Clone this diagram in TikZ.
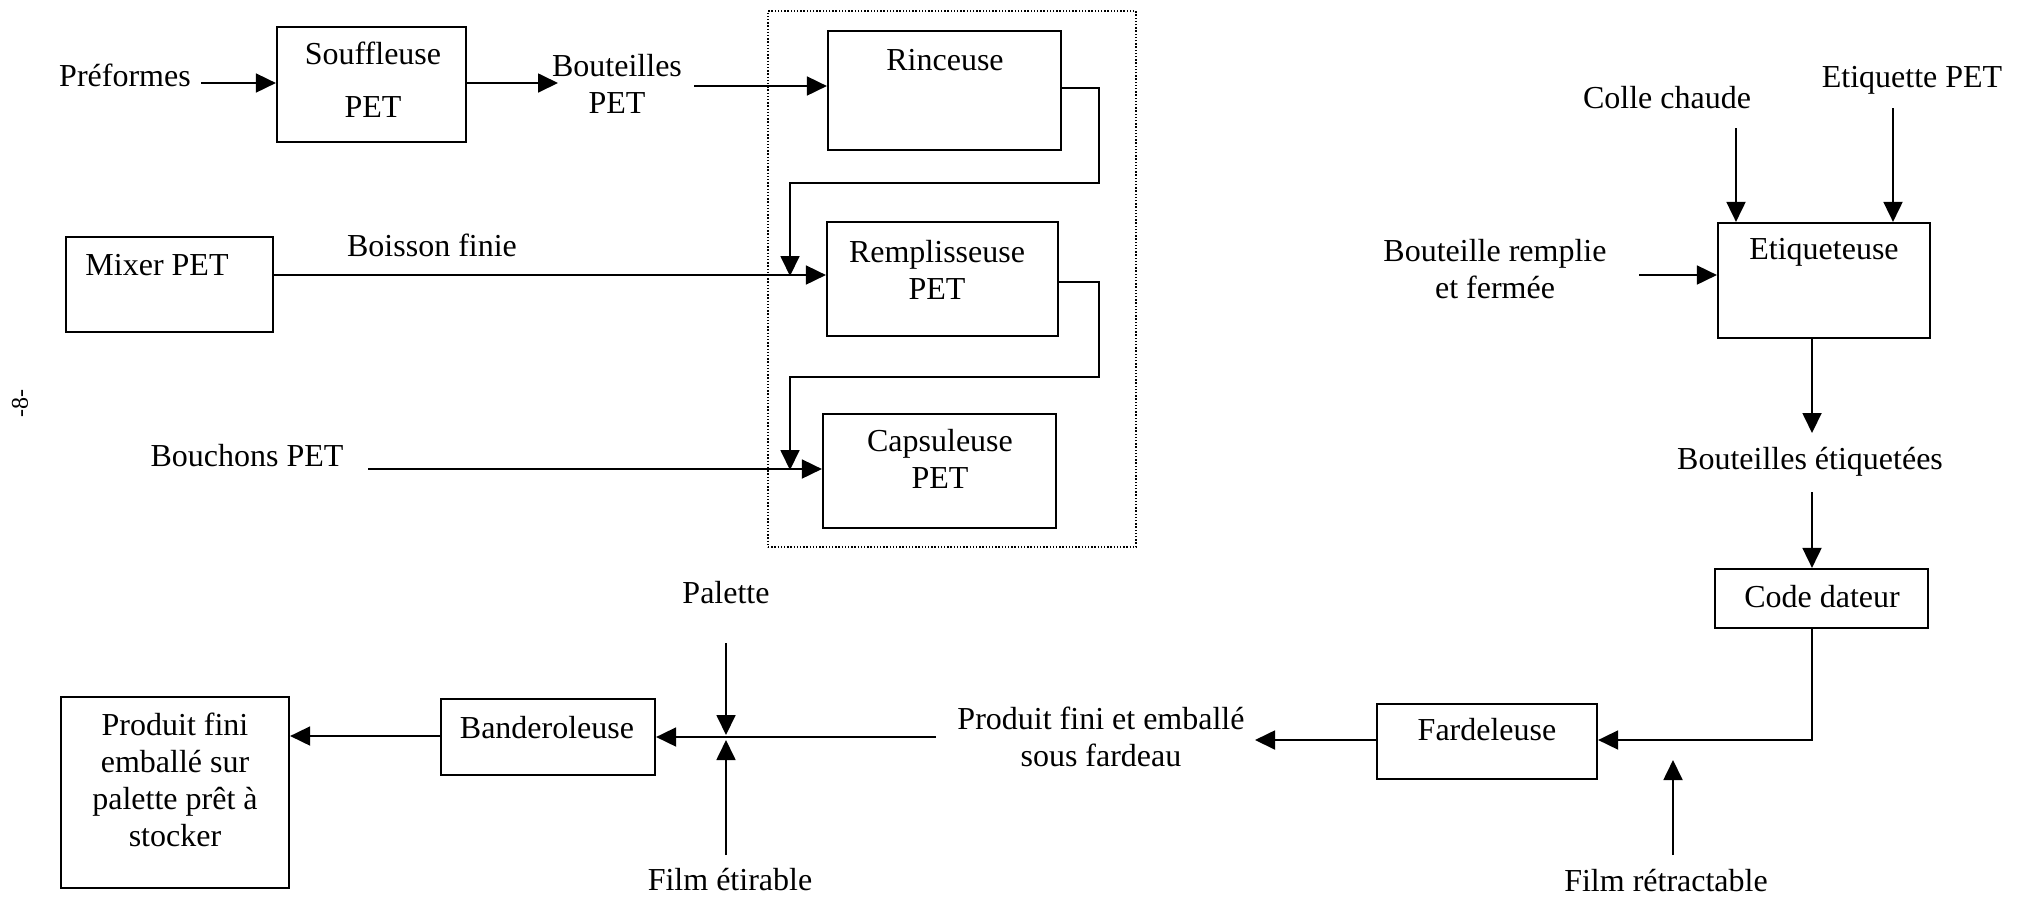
\documentclass[tikz,border=0pt]{standalone}
\usepackage{fontspec}
\setmainfont{Liberation Serif}
\usetikzlibrary{arrows.meta}
\begin{document}
\begin{tikzpicture}[x=0.5pt,y=-0.5pt,
  every node/.style={font=\fontsize{16}{18.5}\selectfont, inner sep=0pt},
  box/.style={draw, line width=1.1pt},
  lbl/.style={align=center},
  flow/.style={line width=0.9pt, -{Triangle[length=10pt,width=9.5pt]}},
  group/.style={draw, line width=0.7pt, dash pattern=on 0.7pt off 0.9pt}]
\useasboundingbox (0,0) rectangle (2024,896);

% ---------- bottling group (dotted frame) ----------
\node[group, minimum width=184pt, minimum height=268pt] (grp) at (952,279) {};

% ---------- machines ----------
\node[box, minimum width=94.5pt,  minimum height=57.5pt] (souf)  at (371.5,84.5) {};
\node[box, minimum width=103.5pt, minimum height=47.5pt] (mixer) at (169.5,284.5) {};
\node[box, minimum width=116.5pt, minimum height=59.5pt] (rince) at (944.5,90.5) {};
\node[box, minimum width=115.5pt, minimum height=57pt]   (rempl) at (942.5,279) {};
\node[box, minimum width=116.5pt, minimum height=57pt]   (caps)  at (939.5,471) {};
\node[box, minimum width=106pt,   minimum height=57.5pt] (etiq)  at (1824,280.5) {};
\node[box, minimum width=106.5pt, minimum height=29.5pt] (code)  at (1821.5,598.5) {};
\node[box, minimum width=110pt,   minimum height=37.5pt] (fard)  at (1487,741.5) {};
\node[box, minimum width=107pt,   minimum height=38pt]   (band)  at (548,737) {};
\node[box, minimum width=114pt,   minimum height=95.5pt] (prod)  at (175,792.5) {};

% ---------- texts inside the machines ----------
\node (t-souf1) at (373,53)  {Souffleuse};
\node (t-souf2) at (373,107) {PET};
\node (t-mixer) at (157,265) {Mixer PET};
\node (t-rince) at (945,60)  {Rinceuse};
\node[lbl] (t-rempl) at (937,270) {Remplisseuse\\PET};
\node[lbl] (t-caps)  at (940,458.5) {Capsuleuse\\PET};
\node (t-etiq)  at (1824,252) {Etiqueteuse};
\node (t-code)  at (1822,597) {Code dateur};
\node (t-fard)  at (1487,730) {Fardeleuse};
\node (t-band)  at (547,728)  {Banderoleuse};
\node[lbl] (t-prod) at (175,780) {Produit fini\\emballé sur\\palette prêt à\\stocker};

% ---------- inputs and products ----------
\node (pref)   at (125,75)    {Préformes};
\node[lbl] (bout) at (617,83.5) {Bouteilles\\PET};
\node (boisson) at (432,245)  {Boisson finie};
\node (bouch)  at (247,456)   {Bouchons PET};
\node (colle)  at (1667,98)   {Colle chaude};
\node (etpet)  at (1912,80)   {Etiquette PET};
\node[lbl] (brem) at (1495,269) {Bouteille remplie\\et fermée};
\node (betiq)  at (1810,462)  {Bouteilles étiquetées};
\node (filmr)  at (1666,881)  {Film rétractable};
\node[lbl] (pfe) at (1101,736.5) {Produit fini et emballé\\sous fardeau};
\node (palette) at (726,593)  {Palette};
\node (filme)  at (730,880)   {Film étirable};
\node[rotate=90, font=\fontsize{12}{14}\selectfont] (page) at (20,403) {-8-};

% ---------- connector end points ----------
\coordinate (c-pref)  at (201,83);
\coordinate (c-bout1) at (558,83);
\coordinate (c-bout2) at (694,86);
\coordinate (r1) at (1099,88);
\coordinate (r2) at (1099,183);
\coordinate (r3) at (790,183);
\coordinate (r4) at (790,276);
\coordinate (m1) at (1099,282);
\coordinate (m2) at (1099,377);
\coordinate (m3) at (790,377);
\coordinate (m4) at (790,470);
\coordinate (c-mix)   at (273,275);
\coordinate (c-bouch) at (368,469);
\coordinate (c-colle) at (1736,128);
\coordinate (c-etpet) at (1893,108);
\coordinate (c-brem)  at (1639,275);
\coordinate (e1) at (1812,433);
\coordinate (e2) at (1812,492);
\coordinate (d1) at (1812,740);
\coordinate (c-filmr) at (1673,855);
\coordinate (c-filmr2) at (1673,760);
\coordinate (c-pfe1) at (1255,740);
\coordinate (c-pfe2) at (936,737);
\coordinate (c-pal1) at (726,643);
\coordinate (c-pal2) at (726,735);
\coordinate (c-fe1) at (726,855);
\coordinate (c-fe2) at (726,740);
\coordinate (c-prod) at (0,736);

% ---------- connectors ----------
\draw[flow] (c-pref) -- (souf.west |- c-pref);
\draw[flow] (souf.east |- c-bout1) -- (c-bout1);
\draw[flow] (c-bout2) -- (rince.west |- c-bout2);
\draw[flow] (rince.east |- r1) -- (r1) -- (r2) -- (r3) -- (r4);
\draw[flow] (rempl.east |- m1) -- (m1) -- (m2) -- (m3) -- (m4);
\draw[flow] (mixer.east |- c-mix) -- (rempl.west |- c-mix);
\draw[flow] (c-bouch) -- (caps.west |- c-bouch);
\draw[flow] (c-colle) -- (c-colle |- etiq.north);
\draw[flow] (c-etpet) -- (c-etpet |- etiq.north);
\draw[flow] (c-brem) -- (etiq.west |- c-brem);
\draw[flow] (etiq.south -| e1) -- (e1);
\draw[flow] (e2) -- (code.north -| e2);
\draw[flow] (code.south -| d1) -- (d1) -- (fard.east |- d1);
\draw[flow] (c-filmr) -- (c-filmr2);
\draw[flow] (fard.west |- c-pfe1) -- (c-pfe1);
\draw[flow] (c-pfe2) -- (band.east |- c-pfe2);
\draw[flow] (c-pal1) -- (c-pal2);
\draw[flow] (c-fe1) -- (c-fe2);
\draw[flow] (band.west |- c-prod) -- (prod.east |- c-prod);
\end{tikzpicture}
\end{document}
